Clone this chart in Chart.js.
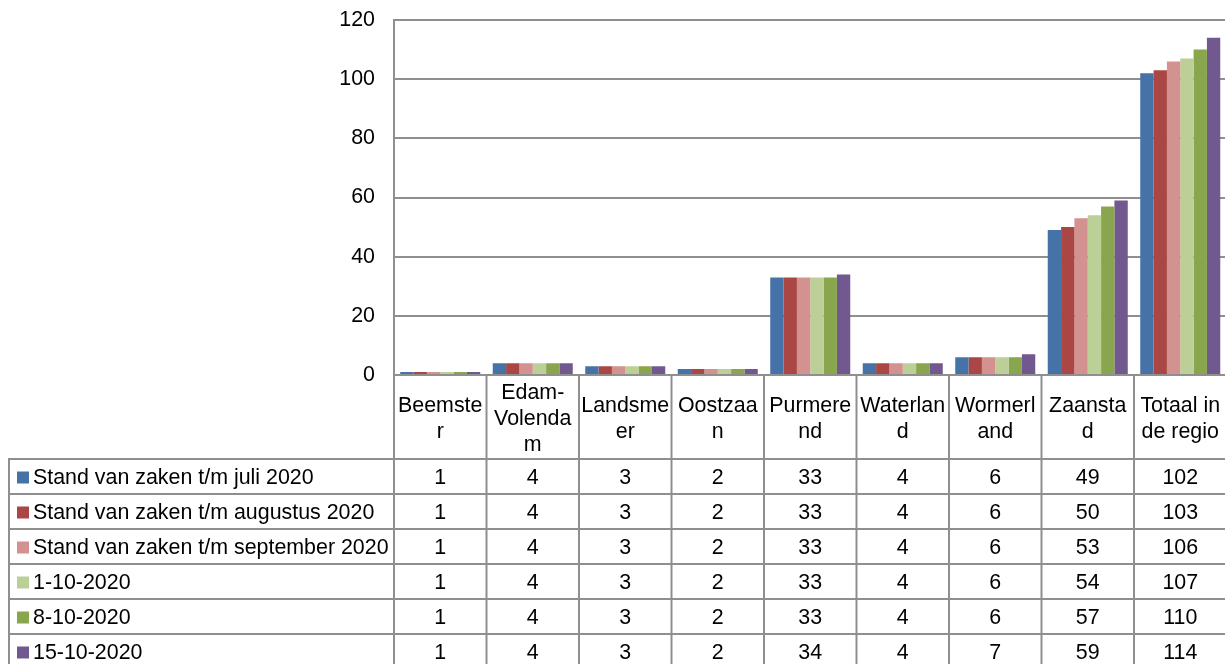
<!DOCTYPE html>
<html>
<head>
<meta charset="utf-8">
<script src="https://cdn.jsdelivr.net/npm/chart.js@4/dist/chart.umd.min.js"></script>
<style>
  html, body { margin: 0; padding: 0; background: #fff; overflow: hidden; }
  canvas { display: block; }
</style>
</head>
<body>
<canvas id="chart" width="1228" height="664"></canvas>
<script>
const categories = ['Beemster', 'Edam-Volendam', 'Landsmeer', 'Oostzaan', 'Purmerend', 'Waterland', 'Wormerland', 'Zaanstad', 'Totaal in de regio'];
// zoals Excel ze in de tabelkop afbreekt
const categoryLines = [['Beemste', 'r'], ['Edam-', 'Volenda', 'm'], ['Landsme', 'er'], ['Oostzaa', 'n'], ['Purmere', 'nd'], ['Waterlan', 'd'], ['Wormerl', 'and'], ['Zaansta', 'd'], ['Totaal in', 'de regio']];

const seriesNames = ['Stand van zaken t/m juli 2020', 'Stand van zaken t/m augustus 2020', 'Stand van zaken t/m september 2020', '1-10-2020', '8-10-2020', '15-10-2020'];
const julData = [1, 4, 3, 2, 33, 4, 6, 49, 102];
const augData = [1, 4, 3, 2, 33, 4, 6, 50, 103];
const sepData = [1, 4, 3, 2, 33, 4, 6, 53, 106];
const okt01Data = [1, 4, 3, 2, 33, 4, 6, 54, 107];
const okt08Data = [1, 4, 3, 2, 33, 4, 6, 57, 110];
const okt15Data = [1, 4, 3, 2, 34, 4, 7, 59, 114];
const yTicks = [0, 20, 40, 60, 80, 100, 120];

const colors = ['#4572A7', '#AA4643', '#D3918F', '#BBCF97', '#89A54E', '#71588F'];
const allData = [julData, augData, sepData, okt01Data, okt08Data, okt15Data];

const FONT = '21.4px "Liberation Sans", Arial, sans-serif';
const LINE = '#8f8f8f';

const dataTable = {
    id: 'dataTable',
    afterDraw(chart) {
        const ctx = chart.ctx;
        const xs = chart.scales.x;
        const ca = chart.chartArea;
        const half = (xs.getPixelForValue(1) - xs.getPixelForValue(0)) / 2;
        const headTop = ca.bottom;
        const rowsTop = headTop + 84;
        const rowH = 35;
        const bottom = chart.height;
        const legendLeft = 9;

        ctx.save();
        ctx.strokeStyle = LINE;
        ctx.lineWidth = 2;
        ctx.beginPath();
        for (let i = 0; i <= categories.length; i++) {
            const x = i < categories.length ? xs.getPixelForValue(i) - half : ca.right;
            ctx.moveTo(x, headTop);
            ctx.lineTo(x, bottom);
        }
        ctx.moveTo(legendLeft, rowsTop);
        ctx.lineTo(legendLeft, bottom);
        for (let r = 0; r < seriesNames.length; r++) {
            const y = rowsTop + r * rowH;
            ctx.moveTo(legendLeft - 1, y);
            ctx.lineTo(ca.right + 1, y);
        }
        ctx.stroke();

        ctx.font = FONT;
        ctx.fillStyle = '#000';
        ctx.textBaseline = 'alphabetic';
        ctx.textAlign = 'center';
        // kop met categorieën
        categoryLines.forEach((lines, i) => {
            const x = xs.getPixelForValue(i);
            lines.forEach((t, k) => {
                ctx.fillText(t, x, headTop + 49.5 + (k - (lines.length - 1) / 2) * 26);
            });
        });
        // waarden + legenda
        allData.forEach((vals, r) => {
            const base = rowsTop + r * rowH + 24.5;
            ctx.textAlign = 'center';
            ctx.fillStyle = '#000';
            vals.forEach((v, i) => ctx.fillText(String(v), xs.getPixelForValue(i), base));
            ctx.fillStyle = colors[r];
            ctx.fillRect(17, base - 12, 12, 12);
            ctx.fillStyle = '#000';
            ctx.textAlign = 'left';
            ctx.fillText(seriesNames[r], 33, base);
        });
        ctx.restore();
    }
};

const ctx = document.getElementById('chart').getContext('2d');
new Chart(ctx, {
    type: 'bar',
    data: {
        labels: categories,
        datasets: allData.map((d, i) => ({
            label: seriesNames[i],
            data: d,
            backgroundColor: colors[i],
            borderWidth: 0,
            categoryPercentage: 0.865,
            barPercentage: 1.0
        }))
    },
    options: {
        responsive: false,
        animation: false,
        layout: { padding: { top: 20, right: 1.5, bottom: 289, left: 0 } },
        plugins: { legend: { display: false }, tooltip: { enabled: false } },
        scales: {
            x: { display: false },
            y: {
                min: 0,
                max: 120,
                afterFit(scale) {
                    scale.width = 394;
                    scale.paddingTop = 0;
                    scale.paddingBottom = 0;
                },
                afterBuildTicks(scale) { scale.ticks = yTicks.map(v => ({ value: v })); },
                ticks: { color: '#000', padding: 19, font: { family: '"Liberation Sans", Arial, sans-serif', size: 21.4 } },
                grid: { color: LINE, lineWidth: 2, drawTicks: false },
                border: { display: true, color: LINE, width: 2 }
            }
        }
    },
    plugins: [dataTable]
});
</script>
</body>
</html>
